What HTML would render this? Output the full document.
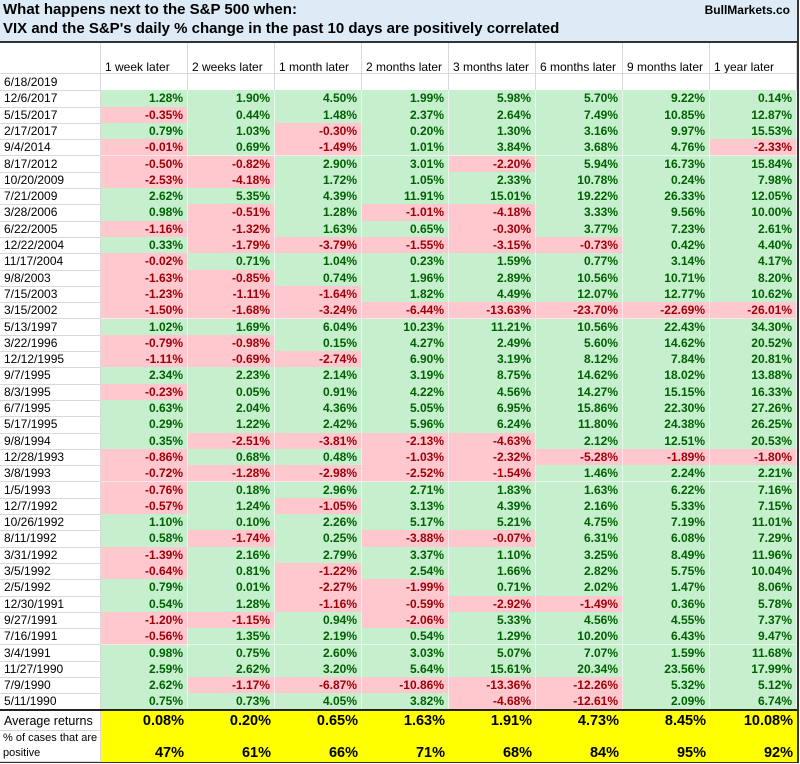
<!DOCTYPE html>
<html><head><meta charset="utf-8">
<style>
body{margin:0;width:800px;height:764px;background:#fff;overflow:hidden;font-family:"Liberation Sans",Arial,sans-serif;}
#t{position:absolute;left:0;top:0;width:800px;height:764px;}
.c{position:absolute;box-sizing:border-box;border-right:1px solid #d9d9d9;border-bottom:1px solid #d9d9d9;font-size:12px;line-height:16px;white-space:nowrap;overflow:hidden;}
.n{text-align:right;padding-right:4px;font-weight:bold;}
.g{background:#c6efce;color:#006100;border-color:#e8f6eb;}
.r{background:#ffc7ce;color:#9c0006;border-color:#fce6e9;}
.y{background:#ffff00;color:#000;font-size:14.5px;font-weight:bold;text-align:right;padding-right:4px;}
</style></head><body>
<div id="t">
<div style="position:absolute;left:0;top:0;width:798px;height:41px;background:#ddebf7;border-bottom:2px solid #333;">
<div style="position:absolute;left:3px;top:1px;font-size:15px;font-weight:bold;">What happens next to the S&amp;P 500 when:</div>
<div style="position:absolute;left:3px;top:20px;font-size:15px;font-weight:bold;">VIX and the S&amp;P's daily % change in the past 10 days are positively correlated</div>
<div style="position:absolute;right:8px;top:3px;font-size:12px;font-weight:bold;">BullMarkets.co</div>
</div>
</div>
<script>
const headers=["1 week later","2 weeks later","1 month later","2 months later","3 months later","6 months later","9 months later","1 year later"];
const dates=["12/6/2017","5/15/2017","2/17/2017","9/4/2014","8/17/2012","10/20/2009","7/21/2009","3/28/2006","6/22/2005","12/22/2004","11/17/2004","9/8/2003","7/15/2003","3/15/2002","5/13/1997","3/22/1996","12/12/1995","9/7/1995","8/3/1995","6/7/1995","5/17/1995","9/8/1994","12/28/1993","3/8/1993","1/5/1993","12/7/1992","10/26/1992","8/11/1992","3/31/1992","3/5/1992","2/5/1992","12/30/1991","9/27/1991","7/16/1991","3/4/1991","11/27/1990","7/9/1990","5/11/1990"];
const week1=[1.28,-0.35,0.79,-0.01,-0.50,-2.53,2.62,0.98,-1.16,0.33,-0.02,-1.63,-1.23,-1.50,1.02,-0.79,-1.11,2.34,-0.23,0.63,0.29,0.35,-0.86,-0.72,-0.76,-0.57,1.10,0.58,-1.39,-0.64,0.79,0.54,-1.20,-0.56,0.98,2.59,2.62,0.75];
const week2=[1.90,0.44,1.03,0.69,-0.82,-4.18,5.35,-0.51,-1.32,-1.79,0.71,-0.85,-1.11,-1.68,1.69,-0.98,-0.69,2.23,0.05,2.04,1.22,-2.51,0.68,-1.28,0.18,1.24,0.10,-1.74,2.16,0.81,0.01,1.28,-1.15,1.35,0.75,2.62,-1.17,0.73];
const month1=[4.50,1.48,-0.30,-1.49,2.90,1.72,4.39,1.28,1.63,-3.79,1.04,0.74,-1.64,-3.24,6.04,0.15,-2.74,2.14,0.91,4.36,2.42,-3.81,0.48,-2.98,2.96,-1.05,2.26,0.25,2.79,-1.22,-2.27,-1.16,0.94,2.19,2.60,3.20,-6.87,4.05];
const month2=[1.99,2.37,0.20,1.01,3.01,1.05,11.91,-1.01,0.65,-1.55,0.23,1.96,1.82,-6.44,10.23,4.27,6.90,3.19,4.22,5.05,5.96,-2.13,-1.03,-2.52,2.71,3.13,5.17,-3.88,3.37,2.54,-1.99,-0.59,-2.06,0.54,3.03,5.64,-10.86,3.82];
const month3=[5.98,2.64,1.30,3.84,-2.20,2.33,15.01,-4.18,-0.30,-3.15,1.59,2.89,4.49,-13.63,11.21,2.49,3.19,8.75,4.56,6.95,6.24,-4.63,-2.32,-1.54,1.83,4.39,5.21,-0.07,1.10,1.66,0.71,-2.92,5.33,1.29,5.07,15.61,-13.36,-4.68];
const month6=[5.70,7.49,3.16,3.68,5.94,10.78,19.22,3.33,3.77,-0.73,0.77,10.56,12.07,-23.70,10.56,5.60,8.12,14.62,14.27,15.86,11.80,2.12,-5.28,1.46,1.63,2.16,4.75,6.31,3.25,2.82,2.02,-1.49,4.56,10.20,7.07,20.34,-12.26,-12.61];
const month9=[9.22,10.85,9.97,4.76,16.73,0.24,26.33,9.56,7.23,0.42,3.14,10.71,12.77,-22.69,22.43,14.62,7.84,18.02,15.15,22.30,24.38,12.51,-1.89,2.24,6.22,5.33,7.19,6.08,8.49,5.75,1.47,0.36,4.55,6.43,1.59,23.56,5.32,2.09];
const year1=[0.14,12.87,15.53,-2.33,15.84,7.98,12.05,10.00,2.61,4.40,4.17,8.20,10.62,-26.01,34.30,20.52,20.81,13.88,16.33,27.26,26.25,20.53,-1.80,2.21,7.16,7.15,11.01,7.29,11.96,10.04,8.06,5.78,7.37,9.47,11.68,17.99,5.12,6.74];
const avgReturns=["0.08%","0.20%","0.65%","1.63%","1.91%","4.73%","8.45%","10.08%"];
const pctPositive=["47%","61%","66%","71%","68%","84%","95%","92%"];
const series=[week1,week2,month1,month2,month3,month6,month9,year1];

const T=document.getElementById('t');
const colX=[0,101],CW=87;for(let i=1;i<=8;i++)colX.push(101+i*CW);
const HEAD_TOP=43,ROW0=74,RH=16.3;
function cell(x,y,w,h,cls,txt){const d=document.createElement('div');d.className='c '+cls;d.style.left=x+'px';d.style.top=y+'px';d.style.width=w+'px';d.style.height=h+'px';if(txt!==undefined)d.textContent=txt;T.appendChild(d);return d;}
let h=cell(0,HEAD_TOP,101,ROW0-HEAD_TOP,'');


headers.forEach((t,i)=>{const d=cell(colX[i+1],HEAD_TOP,CW,ROW0-HEAD_TOP,'',t);d.style.paddingLeft='4px';d.style.paddingTop='16px';

});
const allDates=["6/18/2019"].concat(dates);
allDates.forEach((dt,r)=>{const y=ROW0+r*RH;const d=cell(0,y,101,RH+1,'',dt);d.style.paddingLeft='4px';


for(let c=0;c<8;c++){let e;if(r===0){e=cell(colX[c+1],y,CW,RH+1,'');}else{const v=series[c][r-1];e=cell(colX[c+1],y,CW,RH+1,'n '+(v>=0?'g':'r'),v.toFixed(2)+'%');}

}});
const yEnd=ROW0+allDates.length*RH;
const line=document.createElement('div');line.style.cssText='position:absolute;left:0;width:798px;height:2px;background:#222;top:'+(yEnd-0.5)+'px';T.appendChild(line);


const yA=yEnd+1.5,hA=20,yP=yA+hA,hP=31;
let l1=cell(0,yA,101,hA,'','Average returns');l1.style.paddingLeft='4px';l1.style.fontSize='12.5px';l1.style.lineHeight='20px';


let l2=cell(0,yP,101,hP,'');l2.innerHTML='% of cases that are<br>positive';l2.style.paddingLeft='3px';l2.style.fontSize='11px';l2.style.lineHeight='15px';


for(let c=0;c<8;c++){const a=cell(colX[c+1],yA,CW,hA,'y',avgReturns[c]);a.style.lineHeight='20px';a.style.borderRight='none';a.style.borderBottom='none';


const p=cell(colX[c+1],yP,CW,hP,'y',pctPositive[c]);p.style.lineHeight='18px';p.style.paddingTop='13px';p.style.borderRight='none';p.style.borderBottom='none';

}
const bb=document.createElement('div');bb.style.cssText='position:absolute;left:0;width:798px;height:1px;background:#333;top:'+(yP+hP)+'px';T.appendChild(bb);


const rb=document.createElement('div');rb.style.cssText='position:absolute;left:797px;width:2px;top:0;height:'+(yP+hP+1)+'px;background:#333';T.appendChild(rb);


</script>
</body></html>
